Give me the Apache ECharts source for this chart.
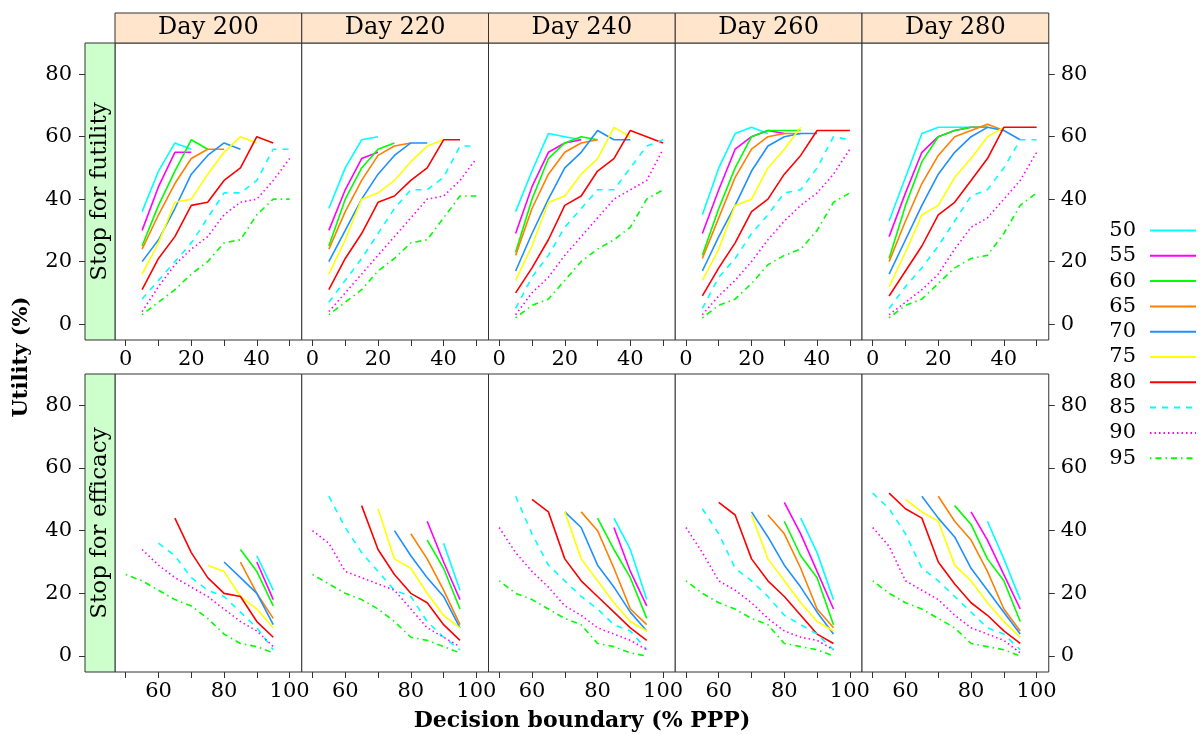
<!DOCTYPE html>
<html><head><meta charset="utf-8">
<script src="https://cdn.jsdelivr.net/npm/echarts@6/dist/echarts.min.js"></script>
<style>html,body{margin:0;padding:0;background:#fff}#c{width:1200px;height:734px}</style>
</head><body><div id="c"></div>
<script>
// ---- data ----
const days = ['Day 200', 'Day 220', 'Day 240', 'Day 260', 'Day 280'];
const rows = ['Stop for futility', 'Stop for efficacy'];
const levels = ['50', '55', '60', '65', '70', '75', '80', '85', '90', '95'];
const xFutility = [5, 10, 15, 20, 25, 30, 35, 40, 45, 50];
const xEfficacy = [50, 55, 60, 65, 70, 75, 80, 85, 90, 95];
const xTicksTop = [0, 10, 20, 30, 40, 50];
const xLabelsTop = [0, 20, 40];
const xTicksBottom = [50, 60, 70, 80, 90, 100];
const xLabelsBottom = [60, 80, 100];
const yTicks = [0, 20, 40, 60, 80];

// futility: one array per level (50..95), values start at boundary 5
const fut200 = [
  [36, 49, 58, 56],
  [30, 44, 55, 55],
  [25, 38, 49, 59, 56],
  [24, 35, 45, 53, 56, 56],
  [20, 27, 37, 48, 54, 58, 56],
  [16, 26, 39, 40, 48, 55, 60, 58],
  [11, 21, 28, 38, 39, 46, 50, 60, 58],
  [8, 14, 20, 26, 34, 42, 42, 46, 56, 56],
  [4, 12, 19, 24, 28, 35, 39, 40, 46, 53],
  [3, 7, 11, 16, 20, 26, 27, 35, 40, 40]
];
const fut220 = [
  [37, 50, 59, 60],
  [30, 43, 53, 55],
  [25, 40, 50, 56, 58],
  [24, 36, 46, 54, 57, 58],
  [20, 30, 40, 48, 54, 58, 58],
  [16, 27, 40, 42, 46, 52, 57, 59],
  [11, 21, 29, 39, 41, 46, 50, 59, 59],
  [7, 14, 21, 29, 37, 43, 43, 47, 57, 57],
  [4, 10, 16, 22, 28, 34, 40, 41, 46, 53],
  [3, 7, 11, 17, 21, 26, 27, 34, 41, 41]
];
const fut240 = [
  [36, 49, 61, 60, 59],
  [29, 44, 55, 58, 59],
  [23, 40, 53, 58, 60, 59],
  [22, 37, 48, 55, 58, 59],
  [17, 29, 40, 50, 55, 62, 59, 59],
  [14, 25, 39, 41, 48, 53, 63, 60],
  [10, 18, 27, 38, 41, 49, 53, 62, 60, 58],
  [5, 15, 22, 31, 37, 43, 43, 50, 57, 59],
  [3, 10, 15, 22, 28, 34, 40, 43, 46, 56],
  [2, 6, 8, 14, 20, 24, 27, 31, 40, 43]
];
const fut260 = [
  [35, 50, 61, 63, 61],
  [29, 43, 56, 60, 62, 61],
  [22, 37, 50, 60, 62, 62, 62],
  [21, 34, 47, 56, 60, 61, 61],
  [17, 28, 38, 49, 57, 60, 61, 61],
  [14, 24, 38, 40, 50, 56, 63],
  [9, 18, 26, 36, 40, 48, 54, 62, 62, 62],
  [5, 15, 21, 29, 35, 42, 43, 50, 60, 59],
  [3, 9, 14, 20, 27, 33, 38, 42, 48, 56],
  [2, 6, 8, 13, 19, 22, 24, 30, 39, 42]
];
const fut280 = [
  [33, 47, 61, 63, 63, 63],
  [28, 42, 55, 60, 62, 63, 63],
  [21, 38, 52, 60, 62, 63, 63],
  [20, 33, 45, 54, 60, 62, 64, 62],
  [16, 27, 38, 48, 55, 60, 63, 62, 59],
  [12, 23, 35, 38, 47, 53, 60, 63],
  [9, 17, 25, 35, 39, 46, 53, 63, 63, 63],
  [5, 12, 18, 25, 33, 41, 43, 50, 59, 59],
  [3, 7, 11, 16, 24, 31, 34, 40, 46, 55],
  [2, 6, 8, 13, 18, 21, 22, 29, 38, 42]
];
// efficacy: one array per level, values end at boundary 95
const eff200 = [
  [32, 21],
  [30, 18],
  [34, 27, 16],
  [30, 20, 12],
  [30, 25, 20, 10],
  [29, 27, 19, 15, 9],
  [44, 33, 25, 20, 19, 11, 6],
  [36, 32, 25, 21, 19, 14, 9, 2],
  [34, 29, 25, 22, 19, 15, 11, 8, 3],
  [26, 24, 21, 18, 16, 12, 7, 4, 3, 1]
];
const eff220 = [
  [36, 21],
  [43, 30, 18],
  [37, 28, 15],
  [39, 31, 21, 10],
  [40, 32, 25, 19, 9],
  [47, 31, 28, 20, 13, 9],
  [48, 34, 26, 20, 17, 10, 5],
  [51, 41, 33, 27, 21, 19, 11, 6, 2],
  [40, 36, 27, 25, 23, 21, 15, 9, 6, 3],
  [26, 23, 20, 18, 15, 11, 6, 5, 3, 1]
];
const eff240 = [
  [44, 34, 18],
  [41, 27, 16],
  [44, 34, 25, 12],
  [46, 40, 28, 15, 10],
  [46, 41, 29, 22, 14, 8],
  [46, 31, 24, 17, 11, 8],
  [50, 46, 31, 24, 19, 14, 9, 5],
  [51, 39, 29, 24, 19, 15, 10, 8, 2],
  [41, 33, 27, 22, 16, 13, 9, 7, 5, 2],
  [24, 20, 18, 15, 12, 10, 4, 3, 1, 0]
];
const eff260 = [
  [44, 33, 18],
  [49, 39, 27, 15],
  [43, 32, 25, 10],
  [45, 39, 28, 15, 9],
  [46, 38, 29, 22, 14, 7],
  [45, 31, 24, 17, 11, 8],
  [49, 45, 31, 24, 19, 13, 7, 4],
  [47, 39, 28, 24, 19, 13, 10, 7, 2],
  [41, 33, 24, 21, 17, 12, 8, 6, 5, 2],
  [24, 20, 17, 15, 12, 10, 4, 3, 2, 0]
];
const eff280 = [
  [43, 31, 18],
  [46, 37, 26, 15],
  [48, 42, 31, 24, 11],
  [51, 43, 37, 27, 15, 8],
  [51, 44, 38, 28, 21, 14, 7],
  [50, 46, 43, 29, 24, 17, 11, 6],
  [52, 47, 44, 30, 23, 17, 13, 8, 4],
  [52, 47, 39, 28, 24, 19, 14, 9, 7, 2],
  [41, 35, 24, 21, 18, 13, 9, 7, 5, 1],
  [24, 20, 17, 15, 12, 9, 4, 3, 2, 0]
];
const futility = [fut200, fut220, fut240, fut260, fut280];
const efficacy = [eff200, eff220, eff240, eff260, eff280];

// ---- styles ----
const colors = ['#00FFFF', '#FF00FF', '#00FF00', '#FF7F00', '#1E90FF', '#FFFF00', '#FF0000', '#00FFFF', '#FF00FF', '#00FF00'];
const lineTypes = ['solid', 'solid', 'solid', 'solid', 'solid', 'solid', 'solid', [6, 6], [1.5, 3], [1.5, 4, 6, 4]];
const FONT = 'DejaVu Serif';

const L0 = 115, PW = 186.75;
const rowTop = [43, 374], rowH = [297, 298];
const xRange = [[-3.27, 53.7], [46.73, 103.7]];
const yRange = [-5.1, 90];

const grids = [], xAxes = [], yAxes = [], series = [];
for (let r = 0; r < 2; r++) {
  for (let c = 0; c < 5; c++) {
    const gi = grids.length;
    grids.push({left: L0 + c * PW, top: rowTop[r], width: PW, height: rowH[r],
      show: true, borderColor: '#333', borderWidth: 1, backgroundColor: '#fff'});
    xAxes.push({type: 'value', gridIndex: gi, min: xRange[r][0], max: xRange[r][1], position: 'bottom',
      axisLine: {show: false, onZero: false}, splitLine: {show: false},
      axisTick: {show: true, length: 6, lineStyle: {color: '#333'}, customValues: r === 0 ? xTicksTop : xTicksBottom},
      axisLabel: {show: true, margin: 9, fontFamily: FONT, fontSize: 21, color: '#000',
        customValues: r === 0 ? xLabelsTop : xLabelsBottom}});
    const showY = c === 4;
    yAxes.push({type: 'value', gridIndex: gi, min: yRange[0], max: yRange[1], position: c === 4 ? 'right' : 'left',
      axisLine: {show: false, onZero: false}, splitLine: {show: false},
      axisTick: {show: showY, length: 6, lineStyle: {color: '#333'}, customValues: yTicks},
      axisLabel: {show: showY, margin: 12, fontFamily: FONT, fontSize: 21, color: '#000', customValues: yTicks}});
    const src = r === 0 ? futility[c] : efficacy[c];
    for (let k = 0; k < levels.length; k++) {
      const vals = src[k];
      let data;
      if (r === 0) data = vals.map((v, i) => [xFutility[i], v]);
      else { const s = xEfficacy.length - vals.length; data = vals.map((v, i) => [xEfficacy[s + i], v]); }
      series.push({type: 'line', name: levels[k], xAxisIndex: gi, yAxisIndex: gi, data: data,
        symbol: 'none', silent: true, animation: false,
        lineStyle: {color: colors[k], width: 1.6, type: lineTypes[k]}, itemStyle: {color: colors[k]}});
    }
  }
}
// left-hand value axes, placed just outside the strip column
for (let r = 0; r < 2; r++) {
  const gi = grids.length;
  grids.push({left: 85, top: rowTop[r], width: 30, height: rowH[r], show: false});
  xAxes.push({type: 'value', gridIndex: gi, min: 0, max: 1, show: false});
  yAxes.push({type: 'value', gridIndex: gi, min: yRange[0], max: yRange[1], position: 'left',
    axisLine: {show: false, onZero: false}, splitLine: {show: false},
    axisTick: {show: true, length: 6, lineStyle: {color: '#333'}, customValues: yTicks},
    axisLabel: {show: true, margin: 13, fontFamily: FONT, fontSize: 21, color: '#000', customValues: yTicks}});
}

const graphics = [];
for (let c = 0; c < 5; c++) {
  graphics.push({type: 'rect', shape: {x: L0 + c * PW, y: 13, width: PW, height: 30},
    style: {fill: '#FFE5CC', stroke: '#333', lineWidth: 1}});
  graphics.push({type: 'text', x: L0 + c * PW + PW / 2, y: 28,
    style: {text: days[c], font: '24px "DejaVu Serif"', fill: '#000', textAlign: 'center', textVerticalAlign: 'middle'}});
}
for (let r = 0; r < 2; r++) {
  graphics.push({type: 'rect', shape: {x: 85, y: rowTop[r], width: 30, height: rowH[r]},
    style: {fill: '#CCFFCC', stroke: '#333', lineWidth: 1}});
  graphics.push({type: 'text', x: 100, y: rowTop[r] + rowH[r] / 2, rotation: Math.PI / 2,
    style: {text: rows[r], font: '23px "DejaVu Serif"', fill: '#000', textAlign: 'center', textVerticalAlign: 'middle'}});
}
graphics.push({type: 'text', x: 22, y: 357, rotation: Math.PI / 2,
  style: {text: 'Utility (%)', font: 'bold 21px "DejaVu Serif"', fill: '#000', textAlign: 'center', textVerticalAlign: 'middle'}});
graphics.push({type: 'text', x: 582, y: 721,
  style: {text: 'Decision boundary (% PPP)', font: 'bold 22px "DejaVu Serif"', fill: '#000', textAlign: 'center', textVerticalAlign: 'middle'}});

const chart = echarts.init(document.getElementById('c'), null, {renderer: 'canvas'});
chart.setOption({
  animation: false,
  backgroundColor: '#fff',
  grid: grids, xAxis: xAxes, yAxis: yAxes, series: series,
  legend: {data: levels, orient: 'vertical', right: 3, top: 220, align: 'right', padding: 0,
    itemWidth: 46, itemHeight: 20, itemGap: 4.3, selectedMode: false,
    itemStyle: {opacity: 0},
    textStyle: {fontFamily: FONT, fontSize: 21, lineHeight: 20, color: '#000', padding: [0, 9, 0, 0]}},
  graphic: graphics
});
</script></body></html>
